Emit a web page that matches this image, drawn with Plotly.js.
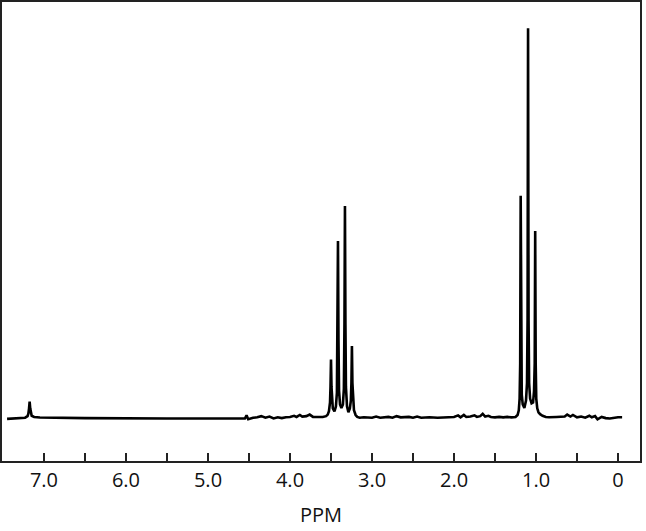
<!DOCTYPE html>
<html>
<head>
<meta charset="utf-8">
<script src="https://cdn.plot.ly/plotly-3.0.1.min.js"></script>
<style>html,body{margin:0;padding:0;background:#fff;}#chart{width:646px;height:531px;}</style>
</head>
<body>
<div id="chart"></div>
<script>
// Spectrum samples: chemical shift (ppm) and relative intensity
const ppm = [
  7.45, 7.30, 7.23, 7.20, 7.19, 7.182, 7.175, 7.168, 7.16, 7.15, 7.12, 7.05, 6.5, 6.0, 5.5, 5.0, 4.6,
  4.55, 4.53, 4.51, 4.45, 4.40, 4.35, 4.30, 4.25, 4.20, 4.15, 4.10, 4.05, 4.00, 3.95, 3.92, 3.88, 3.85, 3.80, 3.76, 3.72, 3.65,
  3.60, 3.56, 3.54, 3.525, 3.512, 3.506, 3.500, 3.494, 3.488, 3.478, 3.458,
  3.44, 3.428, 3.421, 3.415, 3.409, 3.402, 3.39, 3.373,
  3.355, 3.343, 3.336, 3.330, 3.324, 3.318, 3.305, 3.288,
  3.27, 3.258, 3.251, 3.245, 3.239, 3.232, 3.22, 3.20, 3.18, 3.15,
  3.10, 3.00, 2.95, 2.90, 2.80, 2.75, 2.70, 2.65, 2.55, 2.50, 2.45, 2.40, 2.30, 2.20, 2.10, 2.00,
  1.95, 1.92, 1.88, 1.85, 1.80, 1.75, 1.72, 1.68, 1.65, 1.62, 1.58, 1.55, 1.50, 1.45, 1.40, 1.35,
  1.30, 1.25, 1.225, 1.21, 1.200, 1.193, 1.187, 1.181, 1.174, 1.162, 1.142,
  1.122, 1.110, 1.103, 1.097, 1.091, 1.084, 1.072, 1.054,
  1.036, 1.024, 1.016, 1.010, 1.004, 0.997, 0.985, 0.97, 0.95, 0.92, 0.88, 0.84,
  0.75, 0.65, 0.62, 0.58, 0.55, 0.50, 0.45, 0.40, 0.35, 0.32, 0.28, 0.25, 0.20, 0.15, 0.10, 0.05, 0.00, -0.05
];
const intensity = [
  -0.2, -0.1, 0.1, 0.5, 1.2, 2.5, 4.2, 2.5, 1.2, 0.6, 0.3, 0.15, 0.0, -0.1, -0.1, -0.1, -0.1,
  -0.1, 0.7, -0.3, 0.1, 0.2, 0.5, 0.1, 0.4, -0.1, 0.2, 0.0, 0.2, 0.3, 0.6, 0.3, 0.8, 0.4, 0.5, 0.9, 0.3, 0.3,
  0.3, 0.5, 0.9, 1.8, 4, 8, 15, 8, 4.5, 2.5, 1.7,
  3, 6.5, 20, 45.4, 20, 7, 3.5, 2.6,
  3.5, 7.5, 24, 54.4, 24, 8, 3, 1.5,
  2.5, 4.5, 9, 18.5, 9, 4.5, 2, 0.8, 0.3, 0.1,
  0.2, 0.1, 0.4, 0.1, 0.3, 0.1, 0.5, 0.2, 0.3, 0.1, 0.4, 0.1, 0.2, 0.1, 0.2, 0.3,
  0.7, 0.2, 0.8, 0.3, 0.4, 0.7, 0.3, 0.5, 1.1, 0.4, 0.6, 0.3, 0.2, 0.3, 0.2, 0.3,
  0.2, 0.3, 0.8, 2, 5, 14, 57, 14, 6, 3.5, 2.6,
  4.5, 9, 25, 100, 25, 9, 5, 3.8,
  4, 7, 14, 48, 14, 5, 2.5, 1.5, 1.0, 0.6, 0.3, 0.2,
  0.3, 0.4, 0.9, 0.4, 0.8, 0.2, 0.4, 0.1, 0.6, 0.2, 0.5, -0.3, 0.3, 0.0, -0.1, 0.1, 0.2, 0.2
];
const tickValues = [7, 6.5, 6, 5.5, 5, 4.5, 4, 3.5, 3, 2.5, 2, 1.5, 1, 0.5, 0];
const tickLabels = ["7.0", "", "6.0", "", "5.0", "", "4.0", "", "3.0", "", "2.0", "", "1.0", "", "0"];
const xTitle = "PPM";

const trace = {
  x: ppm, y: intensity, type: 'scatter', mode: 'lines',
  line: {color: '#000', width: 2.6}, hoverinfo: 'skip'
};
const layout = {
  width: 646, height: 531,
  margin: {l: 2, r: 6, t: 2, b: 70},
  paper_bgcolor: '#fff', plot_bgcolor: '#fff',
  showlegend: false,
  font: {family: '"Open Sans", "Noto Sans", sans-serif', color: '#111'},
  xaxis: {
    range: [7.512, -0.268], autorange: false,
    tickvals: tickValues, ticktext: tickLabels,
    ticks: 'inside', ticklen: 8, tickwidth: 1.5, tickcolor: '#222',
    showline: true, linewidth: 2, linecolor: '#222', mirror: true,
    showgrid: false, zeroline: false,
    tickfont: {size: 20, color: '#111'},
    title: {text: xTitle, font: {size: 20, color: '#111'}, standoff: 16}
  },
  yaxis: {
    range: [-11, 106.7], autorange: false,
    showticklabels: false, ticks: '',
    showline: true, linewidth: 2, linecolor: '#222', mirror: true,
    showgrid: false, zeroline: false
  }
};
Plotly.newPlot('chart', [trace], layout, {displayModeBar: false, staticPlot: true});
</script>
</body>
</html>
